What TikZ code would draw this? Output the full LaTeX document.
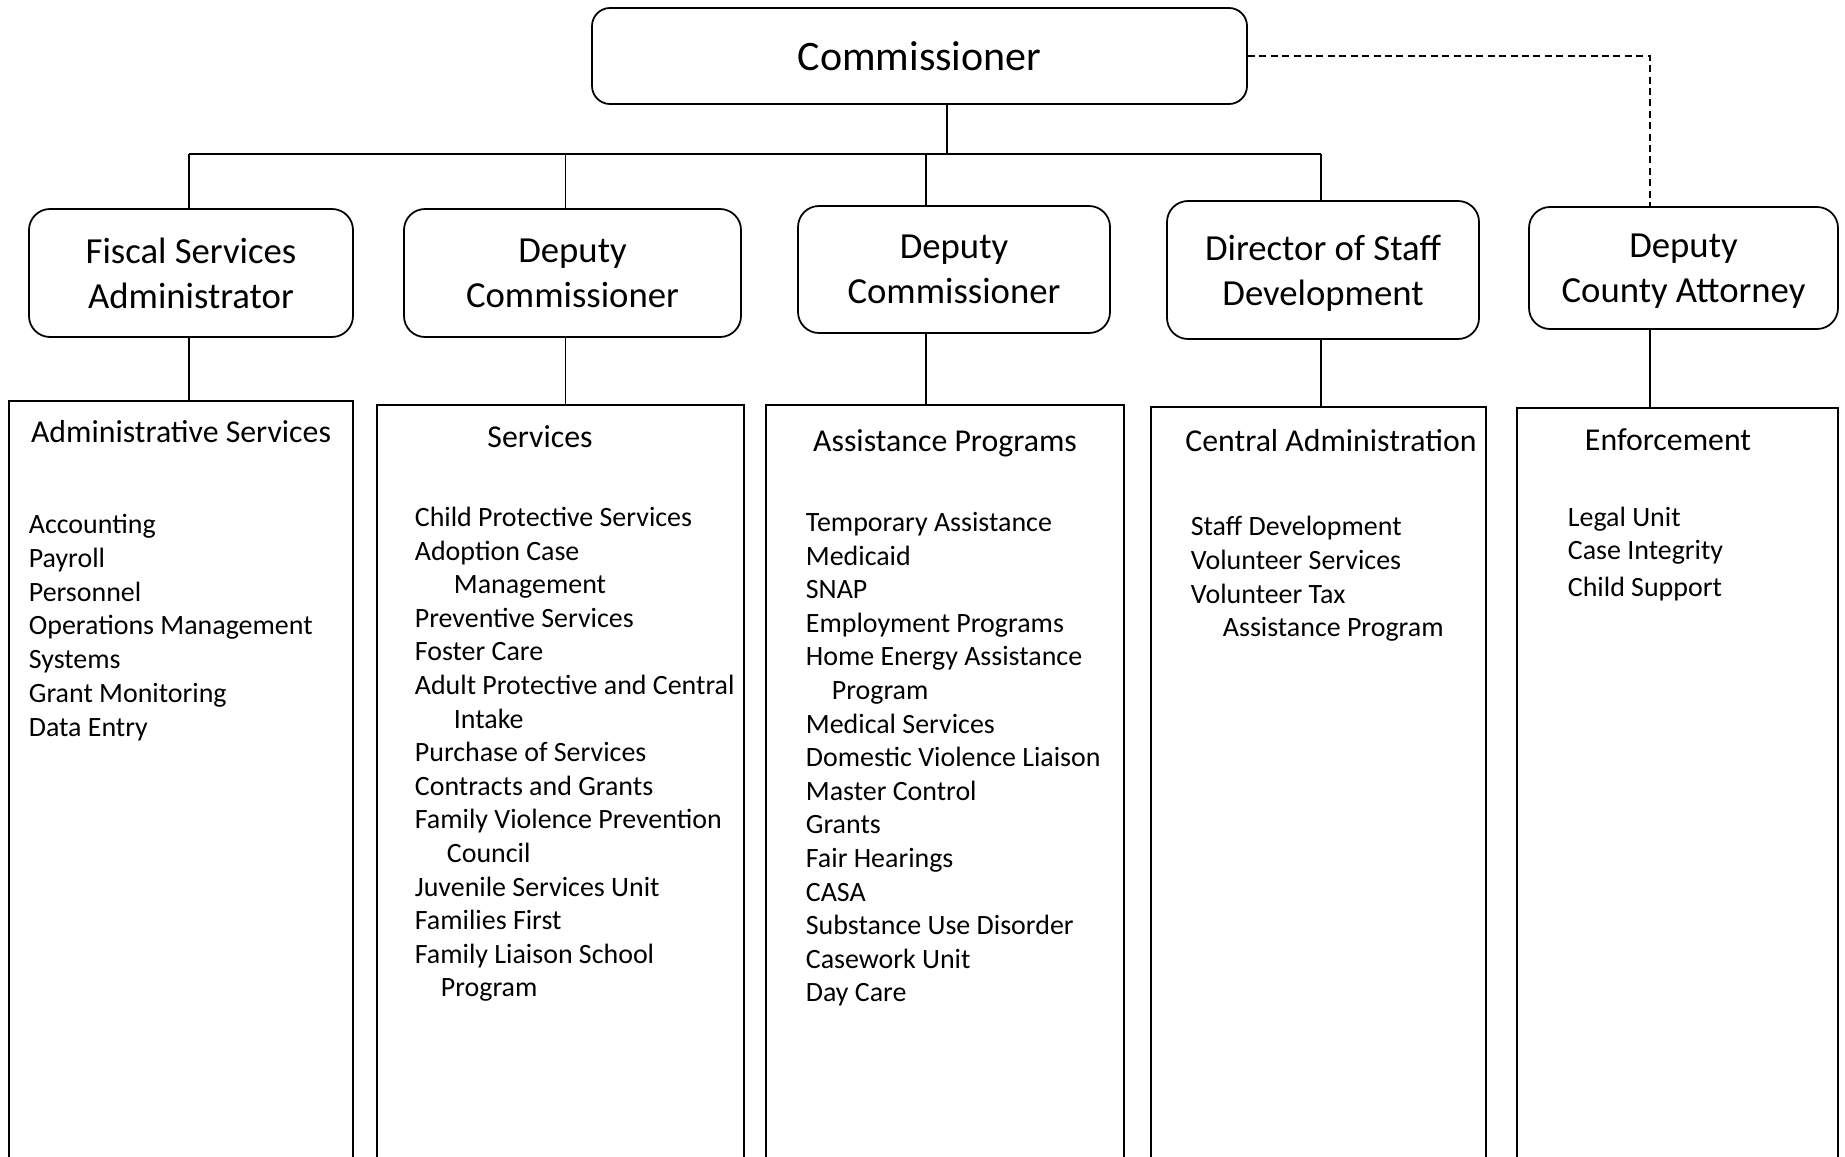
\documentclass[tikz,border=0pt]{standalone}
\usepackage{fontspec}
\setmainfont{Carlito}

\begin{document}
\begin{tikzpicture}[y=-1cm, line width=1pt,
		chief/.style ={draw, rounded corners=0.36cm, minimum width=13.1cm,
			minimum height=1.92cm, font=\fontsize{23.9}{29}\selectfont},
		office/.style ={draw, rounded corners=0.42cm, align=center, text depth=0pt,
			minimum height=2.56cm, font=\fontsize{20.9}{25.4}\selectfont},
		section/.style ={draw, anchor=north, minimum height=17cm},
		sectitle/.style ={anchor=base, inner sep=0pt, font=\fontsize{18.1}{22}\selectfont},
		duty/.style ={anchor=base west, inner sep=0pt, font=\fontsize{15.9}{19}\selectfont}]
		\path[use as bounding box, clip] (0,0) rectangle (36.9,23.12);
		\node[chief] (com) at (18.39,1.12) {Commissioner};
		\node[office, minimum width=6.48cm] (fsa) at (3.82,5.46) {Fiscal Services\\Administrator};
		\node[office, minimum width=6.74cm] (dc1) at (11.45,5.46) {Deputy\\Commissioner};
		\node[office, minimum width=6.24cm, minimum height=2.54cm] (dc2) at (19.08,5.39) {Deputy\\Commissioner};
		\node[office, minimum width=6.24cm, minimum height=2.76cm] (dsd) at (26.46,5.40) {Director of Staff\\Development};
		\node[office, minimum width=6.18cm, minimum height=2.44cm] (dca) at (33.67,5.36) {Deputy\\County Attorney};
		\node[section, minimum width=6.88cm] (adm) at (3.62,8.00) {};
		\node[section, minimum width=7.34cm] (svc) at (11.21,8.08) {};
		\node[section, minimum width=7.16cm] (asp) at (18.90,8.08) {};
		\node[section, minimum width=6.70cm] (cad) at (26.37,8.12) {};
		\node[section, minimum width=6.42cm] (enf) at (33.55,8.14) {};
		\coordinate (j0) at (18.94,3.08);
		\coordinate (j1) at (3.78,3.08);
		\coordinate (j2) at (11.31,3.08);
		\coordinate (j3) at (18.52,3.08);
		\coordinate (j4) at (26.42,3.08);
		\coordinate (j5) at (33.00,1.12);
		\draw (com.south -| j0) -- (j0);
		\draw (j1) -- (j4);
		\draw (j1) -- (fsa.north -| j1);
		\draw (j2) -- (dc1.north -| j2);
		\draw (j3) -- (dc2.north -| j3);
		\draw (j4) -- (dsd.north -| j4);
		\draw[dash pattern=on 4pt off 2.5pt] (com.east) -- (j5) -- (dca.north -| j5);
		\draw (fsa.south -| j1) -- (adm.north -| j1);
		\draw (dc1.south -| j2) -- (svc.north -| j2);
		\draw (dc2.south -| j3) -- (asp.north -| j3);
		\draw (dsd.south -| j4) -- (cad.north -| j4);
		\draw (dca.south -| j5) -- (enf.north -| j5);
		\node[sectitle] (admt) at (3.62,8.84) {Administrative Services};
		\node[sectitle] (svct) at (10.80,8.94) {Services};
		\node[sectitle] (aspt) at (18.90,9.02) {Assistance Programs};
		\node[sectitle] (cadt) at (26.62,9.02) {Central Administration};
		\node[sectitle] (enft) at (33.36,9.00) {Enforcement};
		\foreach \txt [count=\i from 0] in {Accounting, Payroll, Personnel,
			Operations Management, Systems, Grant Monitoring, Data Entry}
		\node[duty] (adm\i) at ({0.56},{10.67+0.675*\i}) {\txt};
		\foreach \txt [count=\i from 0] in {Child Protective Services, Adoption Case,
			\hspace{0.78cm}Management, Preventive Services, Foster Care,
			Adult Protective and Central, \hspace{0.78cm}Intake, Purchase of Services,
			Contracts and Grants, Family Violence Prevention, \hspace{0.64cm}Council,
			Juvenile Services Unit, Families First, Family Liaison School,
			\hspace{0.52cm}Program}
		\node[duty] (svc\i) at ({8.28},{10.53+0.672*\i}) {\txt};
		\foreach \txt [count=\i from 0] in {Temporary Assistance, Medicaid, SNAP,
			Employment Programs, Home Energy Assistance, \hspace{0.52cm}Program,
			Medical Services, Domestic Violence Liaison, Master Control, Grants,
			Fair Hearings, CASA, Substance Use Disorder, Casework Unit, Day Care}
		\node[duty] (asp\i) at ({16.10},{10.63+0.672*\i}) {\txt};
		\foreach \txt [count=\i from 0] in {Staff Development, Volunteer Services,
			Volunteer Tax, \hspace{0.64cm}Assistance Program}
		\node[duty] (cad\i) at ({23.80},{10.71+0.675*\i}) {\txt};
		\foreach \txt/\yy [count=\i from 0] in {Legal Unit/10.53, Case Integrity/11.19,
			Child Support/11.93}
		\node[duty] (enf\i) at (31.34,\yy) {\txt};
\end{tikzpicture}
\end{document}
